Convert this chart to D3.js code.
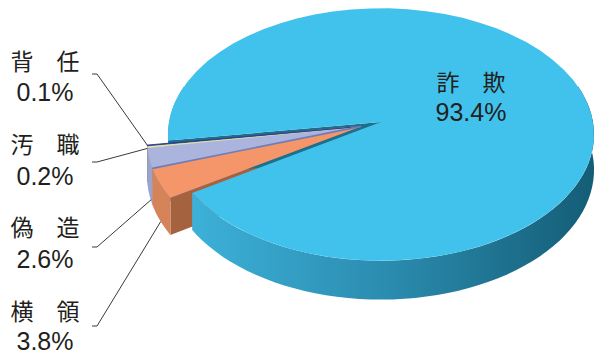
<!DOCTYPE html>
<html><head><meta charset="utf-8">
<script src="https://cdn.jsdelivr.net/npm/d3@7"></script>
<style>body{margin:0;background:#fff}svg{display:block}</style>
</head><body>
<svg id="c" width="595" height="356"></svg>
<script>
// ---- data ----
const categories = ["横領", "偽造", "汚職", "背任", "詐欺"];
const values = [3.8, 2.6, 0.2, 0.1, 93.4];
const percentLabels = ["3.8%", "2.6%", "0.2%", "0.1%", "93.4%"];
const categoryLabels = ["横　領", "偽　造", "汚　職", "背　任", "詐　欺"];

// ---- styles ----
const topColors  = ["#f4956a", "#aab4dd", "#eeeaa6", "#2b3a8f", "#41c2ed"];
const sideColors = ["#d5845a", "#9aa3d0", "#cfcb88", "#24307a", "url(#sideGrad)"];
const wallColors = ["#a5623f", "#7482b8", "#b0ad70", "#1a2560", "#1d6f8b"];
const edgeWidth  = [0, 0, 0.8, 0.8, 0];
const explode    = [0.1, 0.1, 0.1, 0.1, 0];

// ---- projection geometry ----
const cx = 381, cy = 122, A = 212, B = 125, K = 0.099, T = 35;
const deg = Math.PI / 180;
const startTheta = 147.5 * deg;   // screen angle (from +x, clockwise) where the pie starts

function proj(theta, r, h, off) {
  const x = off[0] + r * Math.cos(theta);
  const z = off[1] + r * Math.sin(theta);
  const f = 1 / (1 - K * z);
  return [cx + A * x * f, cy + B * z * f + h * T * f];
}

const svg = d3.select("#c");
const defs = svg.append("defs");
const g = defs.append("linearGradient").attr("id", "sideGrad")
  .attr("gradientUnits", "userSpaceOnUse").attr("x1", 190).attr("x2", 594).attr("y1", 0).attr("y2", 0);
g.append("stop").attr("offset", 0).attr("stop-color", "#3db1d9");
g.append("stop").attr("offset", 0.5).attr("stop-color", "#2a8bae");
g.append("stop").attr("offset", 1).attr("stop-color", "#145d76");

const pie = d3.pie().sort(null).value(d => d)
  .startAngle(startTheta + Math.PI / 2).endAngle(startTheta + Math.PI / 2 + 2 * Math.PI);
const arcs = pie(values).map((a, i) => {
  const t0 = a.startAngle - Math.PI / 2, t1 = a.endAngle - Math.PI / 2;
  return { i, t0, t1 };
});
// common explode direction = mid angle of exploded group
const expl = arcs.filter(a => explode[a.i] > 0);
const grpMid = (expl[0].t0 + expl[expl.length - 1].t1) / 2;
arcs.forEach(a => {
  const d = explode[a.i];
  a.off = [d * Math.cos(grpMid), d * Math.sin(grpMid)];
});

const line = d3.line();
function arcPts(a, t0, t1, h, n = 60) {
  return d3.range(n + 1).map(j => proj(t0 + (t1 - t0) * j / n, 1, h, a.off));
}
function topPath(a) {
  const c = proj(0, 0, 0, a.off);
  return line([c, ...arcPts(a, a.t0, a.t1, 0)]) + "Z";
}
function sidePath(a) {
  const lo = -0.3, hi = Math.PI + 0.3;
  const pieces = [];
  for (const shift of [0, 2 * Math.PI, -2 * Math.PI]) {
    const ss = Math.max(a.t0, lo + shift), ee = Math.min(a.t1, hi + shift);
    if (ee > ss) pieces.push([ss, ee]);
  }
  return pieces.map(([ss, ee]) => {
    const top = arcPts(a, ss, ee, 0), bot = arcPts(a, ss, ee, 1).reverse();
    return line([...top, ...bot]) + "Z";
  }).join(" ");
}
function wallPath(a, t) {
  return line([proj(0, 0, 0, a.off), proj(t, 1, 0, a.off), proj(t, 1, 1, a.off), proj(0, 0, 1, a.off)]) + "Z";
}
function startWallVisible(t) { return Math.cos(t) < 0; }
function endWallVisible(t) { return Math.cos(t) > 0; }

const small = arcs.filter(a => explode[a.i] > 0);
const big = arcs.filter(a => explode[a.i] === 0);
const layer = svg.append("g");

function drawUnder(a) {
  if (startWallVisible(a.t0)) layer.append("path").attr("d", wallPath(a, a.t0)).attr("fill", wallColors[a.i]);
  if (endWallVisible(a.t1)) layer.append("path").attr("d", wallPath(a, a.t1)).attr("fill", wallColors[a.i]);
  const sp = sidePath(a);
  if (sp) layer.append("path").attr("d", sp).attr("fill", sideColors[a.i]);
}
small.slice().reverse().forEach(drawUnder);
big.forEach(a => {
  const sp = sidePath(a);
  layer.append("path").attr("d", sp).attr("fill", sideColors[a.i]);
  if (startWallVisible(a.t0)) layer.append("path").attr("d", wallPath(a, a.t0)).attr("fill", wallColors[a.i]);
  layer.append("path").attr("d", topPath(a)).attr("fill", topColors[a.i]);
});
small.forEach(a => {
  const p = layer.append("path").attr("d", topPath(a)).attr("fill", topColors[a.i]);
  if (edgeWidth[a.i] > 0) p.attr("stroke", topColors[a.i]).attr("stroke-width", edgeWidth[a.i]);
});
// separating edge between 偽造 and 横領 top faces
{
  const a = small[1];
  layer.append("path").attr("d", line([proj(0, 0, 0, a.off), proj(a.t0, 1, 0, a.off)]))
    .attr("stroke", "#6f7db4").attr("stroke-width", 1.6).attr("fill", "none");
}

// ---- labels ----
const font = "'Liberation Sans', Arial, 'Noto Sans CJK JP', sans-serif";
const labelX = [45, 45, 45, 45, 471];
const nameY = [320, 236, 153, 70, 91];
const pctY = [350, 268, 185, 101, 121];
const lineY = [326, 247, 162, 74, null];
// anchors on slices: [fraction of slice angle, height on side]
const anchorSpec = [[0.45, 1.0], [0.15, 0.95], [0.5, 0.05], [1.0, 0.0], null];

const lbl = svg.append("g").attr("fill", "#231f20").attr("font-family", font);
categories.forEach((c, i) => {
  lbl.append("text").attr("x", labelX[i]).attr("y", nameY[i]).attr("text-anchor", "middle")
    .attr("font-size", 23).text(categoryLabels[i]);
  lbl.append("text").attr("x", labelX[i]).attr("y", pctY[i]).attr("text-anchor", "middle")
    .attr("font-size", 25).text(percentLabels[i]);
  if (anchorSpec[i]) {
    const a = arcs[i];
    const [fr, h] = anchorSpec[i];
    const p = proj(a.t0 + (a.t1 - a.t0) * fr, 1, h, a.off);
    svg.append("path").attr("d", line([[92, lineY[i]], [97, lineY[i]], p]))
      .attr("fill", "none").attr("stroke", "#3a3a3a").attr("stroke-width", 1);
  }
});
</script>
</body></html>
